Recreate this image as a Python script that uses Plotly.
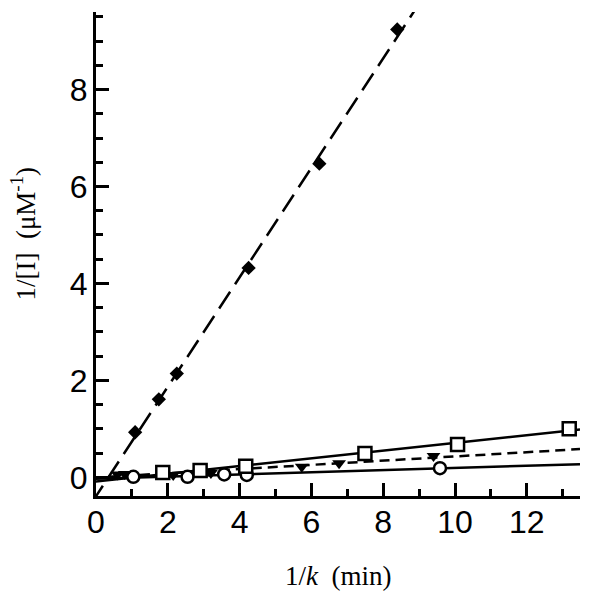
import numpy as np
import plotly.graph_objects as go

# Data
diamond_x = [1.09, 1.75, 2.25, 4.25, 6.22, 8.39]
diamond_y = [0.93, 1.61, 2.14, 4.32, 6.47, 9.24]

square_x = [1.86, 2.90, 4.17, 7.49, 10.07, 13.18]
square_y = [0.10, 0.14, 0.23, 0.49, 0.68, 1.00]

circle_x = [1.04, 2.55, 3.57, 4.20, 9.58]
circle_y = [0.01, 0.01, 0.06, 0.05, 0.19]

triangle_x = [0.60, 0.80, 2.15, 3.20, 5.73, 6.77, 9.40]
triangle_y = [0.06, 0.07, 0.05, 0.09, 0.22, 0.29, 0.44]

x_ticks = [0, 2, 4, 6, 8, 10, 12]
y_ticks = [0, 2, 4, 6, 8]

x_title = "1/<i>k</i>\u00a0 (min)"
y_title = "1/[I]\u00a0 (μM<sup>-1</sup>)"

X_RANGE = [0, 13.48]
Y_RANGE = [-0.385, 9.6]

fig = go.Figure()

def fit_line(xs, ys, dash, width=2.5):
    b, a = np.polyfit(xs, ys, 1)
    lx = np.array([-1.0, X_RANGE[1]])
    fig.add_trace(go.Scatter(x=lx, y=a + b * lx, mode="lines",
                             line=dict(color="black", width=width, dash=dash),
                             showlegend=False, hoverinfo="skip"))

fit_line(diamond_x, diamond_y, "20px,9px")
fit_line(square_x, square_y, "solid")
fit_line(circle_x, circle_y, "solid")
fit_line(triangle_x, triangle_y, "10px,6px")

fig.add_trace(go.Scatter(x=diamond_x, y=diamond_y, mode="markers",
                         marker=dict(symbol="diamond", size=11, color="black"),
                         showlegend=False))
fig.add_trace(go.Scatter(x=circle_x, y=circle_y, mode="markers",
                         marker=dict(symbol="circle", size=12, color="white",
                                     line=dict(color="black", width=2.5)),
                         showlegend=False))
fig.add_trace(go.Scatter(x=triangle_x, y=triangle_y, mode="markers",
                         marker=dict(symbol="triangle-down", size=12, color="black"),
                         showlegend=False))
fig.add_trace(go.Scatter(x=square_x, y=square_y, mode="markers",
                         marker=dict(symbol="square", size=13, color="white",
                                     line=dict(color="black", width=2.5)),
                         showlegend=False))

axis_common = dict(
    showgrid=False, zeroline=False, showline=True, linecolor="black", linewidth=3,
    ticks="inside", ticklen=13, tickwidth=2.5, tickcolor="black",
    tickfont=dict(family="Liberation Sans, Arial", size=32, color="black"),
    mirror=False, automargin=False,
)

fig.update_xaxes(range=X_RANGE, tickvals=x_ticks, ticktext=[str(v) for v in x_ticks],
                 minor=dict(ticks="inside", ticklen=7, tickwidth=2.5, dtick=1, tick0=0,
                            tickcolor="black"),
                 ticklabelstandoff=-4,
                 **axis_common)
fig.update_yaxes(range=Y_RANGE, tickvals=y_ticks, ticktext=[str(v) for v in y_ticks],
                 minor=dict(ticks="inside", ticklen=7, tickwidth=2.5, dtick=0.5, tick0=0,
                            tickcolor="black"),
                 ticklabelstandoff=-1,
                 **axis_common)

title_font = dict(family="Liberation Serif, Times New Roman", size=27, color="black")
fig.add_annotation(text=x_title, xref="paper", yref="paper", x=0.5, y=-0.165,
                   xanchor="center", yanchor="middle", showarrow=False, font=title_font)
fig.add_annotation(text=y_title, xref="paper", yref="paper", x=-0.150, y=0.543,
                   xanchor="center", yanchor="middle", showarrow=False, textangle=-90,
                   font=title_font)

# the page body adds an 8px margin, so the figure is 8px smaller and shifted
fig.update_layout(width=592, height=586, plot_bgcolor="white", paper_bgcolor="white",
                  margin=dict(l=88, r=20, t=4, b=98), showlegend=False)

fig.write_html("out.html")
